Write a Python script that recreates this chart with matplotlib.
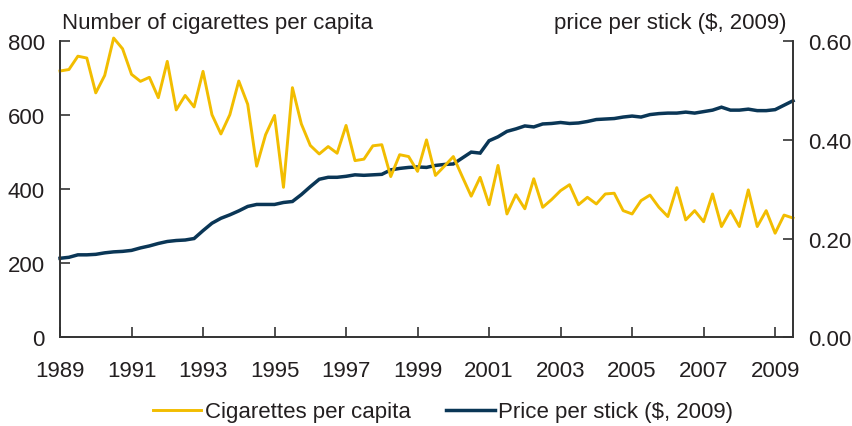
import matplotlib
matplotlib.use("Agg")
import matplotlib.pyplot as plt
import numpy as np
import pandas as pd

# Quarterly data, 1989Q1 onwards
cigarettes = [719, 723, 759, 754, 660, 707, 808, 779, 710, 691, 702, 647, 745, 614,
              653, 622, 718, 601, 549, 601, 692, 629, 462, 547, 599, 405, 674, 576,
              518, 495, 515, 497, 572, 477, 481, 517, 520, 434, 493, 488, 448, 533,
              437, 462, 488, 434, 381, 432, 358, 464, 333, 385, 347, 428, 351, 372,
              396, 412, 358, 378, 360, 387, 389, 342, 333, 369, 384, 351, 326, 404,
              317, 342, 312, 387, 299, 342, 299, 398, 299, 342, 281, 330, 322]
price = [0.160, 0.162, 0.167, 0.167, 0.168, 0.171, 0.173, 0.174, 0.176, 0.181, 0.185,
         0.190, 0.194, 0.196, 0.197, 0.200, 0.216, 0.231, 0.241, 0.248, 0.256, 0.265,
         0.269, 0.269, 0.269, 0.273, 0.275, 0.289, 0.305, 0.320, 0.324, 0.324, 0.326,
         0.329, 0.328, 0.329, 0.330, 0.339, 0.342, 0.344, 0.345, 0.344, 0.348, 0.350,
         0.351, 0.363, 0.375, 0.373, 0.398, 0.406, 0.417, 0.422, 0.428, 0.426, 0.432,
         0.433, 0.435, 0.433, 0.434, 0.437, 0.441, 0.442, 0.443, 0.446, 0.448, 0.446,
         0.451, 0.453, 0.454, 0.454, 0.456, 0.454, 0.457, 0.460, 0.466, 0.460, 0.460,
         0.462, 0.459, 0.459, 0.461, 0.470, 0.479]
year_ticks = [1989, 1991, 1993, 1995, 1997, 1999, 2001, 2003, 2005, 2007, 2009]
left_ticks = [0, 200, 400, 600, 800]
right_ticks = [0.0, 0.2, 0.4, 0.6]

periods = pd.period_range("1989Q1", periods=len(cigarettes), freq="Q")
x = np.array([p.year + (p.quarter - 1) / 4 for p in periods])

plt.rcParams['font.family'] = ['Liberation Sans', 'DejaVu Sans']
TXT = '#231f20'
YEL = '#f2bd00'
BLU = '#0a3656'
FS = 16

fig = plt.figure(figsize=(8.52, 4.27), dpi=100)
W, H = 852, 427
ax = fig.add_axes([60 / W, (H - 338.3) / H, 733 / W, 296.3 / H])
ax2 = ax.twinx()
ax.set_zorder(ax2.get_zorder() + 1)
ax.patch.set_visible(False)

ax2.plot(x, price, color=BLU, lw=2.5, solid_joinstyle='miter', clip_on=False)
ax.plot(x, cigarettes, color=YEL, lw=2.1, clip_on=False)

ax.set_xlim(x[0], x[-1])
ax.set_ylim(0, 800)
ax2.set_ylim(0, 0.6)
ax.set_xticks(year_ticks)
ax.set_xticklabels([str(y) for y in year_ticks])
ax.set_yticks(left_ticks)
ax.set_yticklabels([str(v) for v in left_ticks])
ax2.set_yticks(right_ticks)
ax2.set_yticklabels([f"{v:.2f}" for v in right_ticks])

for a in (ax, ax2):
    for s in a.spines.values():
        s.set_color('#333333')
        s.set_linewidth(1.2)
    a.spines['top'].set_visible(False)
ax.tick_params(axis='x', direction='in', length=7, width=1.2, color='#333333',
               labelsize=FS, labelcolor=TXT, pad=16)
ax.tick_params(axis='y', direction='in', length=7, width=1.2, color='#333333',
               labelsize=FS, labelcolor=TXT, pad=11)
ax2.tick_params(axis='y', direction='in', length=7, width=1.2, color='#333333',
                labelsize=FS, labelcolor=TXT, pad=11)

fig.text(62 / W, 1 - 23 / H, "Number of cigarettes per capita", fontsize=FS,
         color=TXT, ha='left', va='center')
fig.text(786 / W, 1 - 23 / H, "price per stick ($, 2009)", fontsize=FS,
         color=TXT, ha='right', va='center')

h1, = ax.plot([], [], color=YEL, lw=2.1)
h2, = ax.plot([], [], color=BLU, lw=2.5)
fig.legend([h1, h2], ["Cigarettes per capita", "Price per stick ($, 2009)"],
           loc='center', bbox_to_anchor=(443 / W, 14 / H), ncol=2, frameon=False,
           fontsize=FS, handlelength=2.2, handletextpad=0.15, columnspacing=1.6,
           labelcolor=TXT)

fig.savefig("out.png", dpi=100)
